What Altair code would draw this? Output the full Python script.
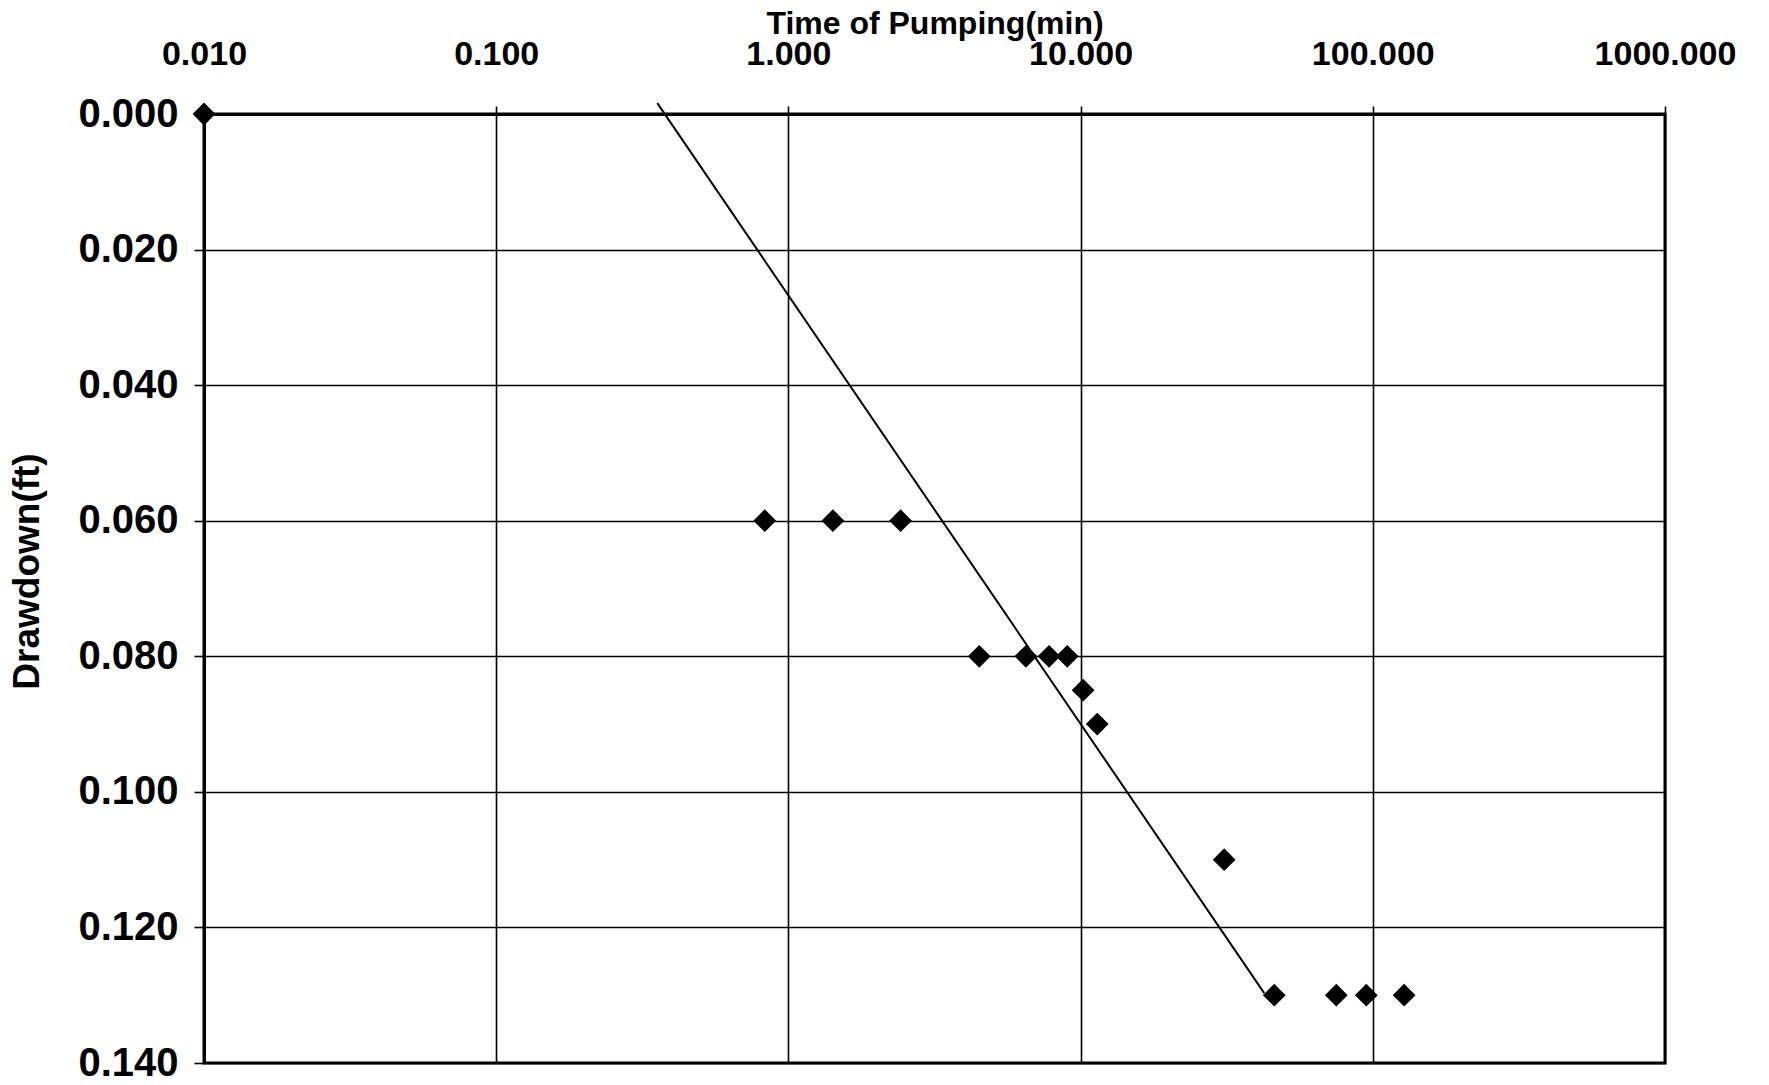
import altair as alt
import pandas as pd

# Observed data: time of pumping (min) and drawdown (ft)
times = [0.01, 0.83, 1.42, 2.42, 4.5, 6.5, 7.8, 9.0, 10.2, 11.4, 31.0, 46.0, 75.0, 95.0, 128.0]
drawdowns = [0.0, 0.06, 0.06, 0.06, 0.08, 0.08, 0.08, 0.08, 0.085, 0.09, 0.11, 0.13, 0.13, 0.13, 0.13]

# Straight-line fit (Cooper-Jacob style)
fit_times = [0.356, 42.5]
fit_drawdowns = [-0.0016, 0.1297]

x_ticks = [0.01, 0.1, 1, 10, 100, 1000]
y_ticks = [0.0, 0.02, 0.04, 0.06, 0.08, 0.10, 0.12, 0.14]

pts = pd.DataFrame({"t": times, "s": drawdowns})
fit = pd.DataFrame({"t": fit_times, "s": fit_drawdowns})

xscale = alt.Scale(type="log", domain=[0.01, 1000])
yscale = alt.Scale(domain=[0, 0.14], reverse=True, nice=False, zero=False)

xaxis = alt.Axis(
    orient="top", values=x_ticks, format=".3f", title="Time of Pumping(min)",
    labelFont="Liberation Sans", labelFontSize=34, labelFontWeight="bold",
    labelColor="black", labelPadding=35, tickSize=8, tickColor="black", tickWidth=1.6,
    grid=True, gridColor="black", gridWidth=1.6, gridOpacity=1,
    domainColor="black", domainWidth=3,
    titleFont="Liberation Sans", titleFontSize=32, titleFontWeight="bold", titleColor="black",
    titleBaseline="alphabetic", titleY=-81, labelFlush=False,
)
yaxis = alt.Axis(
    orient="left", values=y_ticks, format=".3f", title="Drawdown(ft)",
    labelFont="Liberation Sans", labelFontSize=40, labelFontWeight="bold",
    labelColor="black", labelPadding=16, tickSize=10, tickColor="black", tickWidth=1.6,
    grid=True, gridColor="black", gridWidth=1.6, gridOpacity=1,
    domainColor="black", domainWidth=3,
    titleFont="Liberation Sans", titleFontSize=37, titleFontWeight="bold", titleColor="black",
    titleBaseline="alphabetic", titleX=-166, titleY=457, titleAngle=-90, labelFlush=False,
)

points = alt.Chart(pts).mark_point(shape="diamond", filled=True, color="black", size=520, opacity=1).encode(
    x=alt.X("t:Q", scale=xscale, axis=xaxis),
    y=alt.Y("s:Q", scale=yscale, axis=yaxis),
)

line = alt.Chart(fit).mark_line(color="black", strokeWidth=2).encode(
    x=alt.X("t:Q", scale=xscale),
    y=alt.Y("s:Q", scale=yscale),
)

chart = alt.layer(line, points).properties(
    width=1461, height=949,
    autosize=alt.AutoSizeParams(type="none"),
    padding={"left": 204, "top": 114, "right": 104, "bottom": 22},
    background="white",
).configure_view(stroke="black", strokeWidth=3)

chart.save("out.html", embed_options={"renderer": "svg", "actions": False})
